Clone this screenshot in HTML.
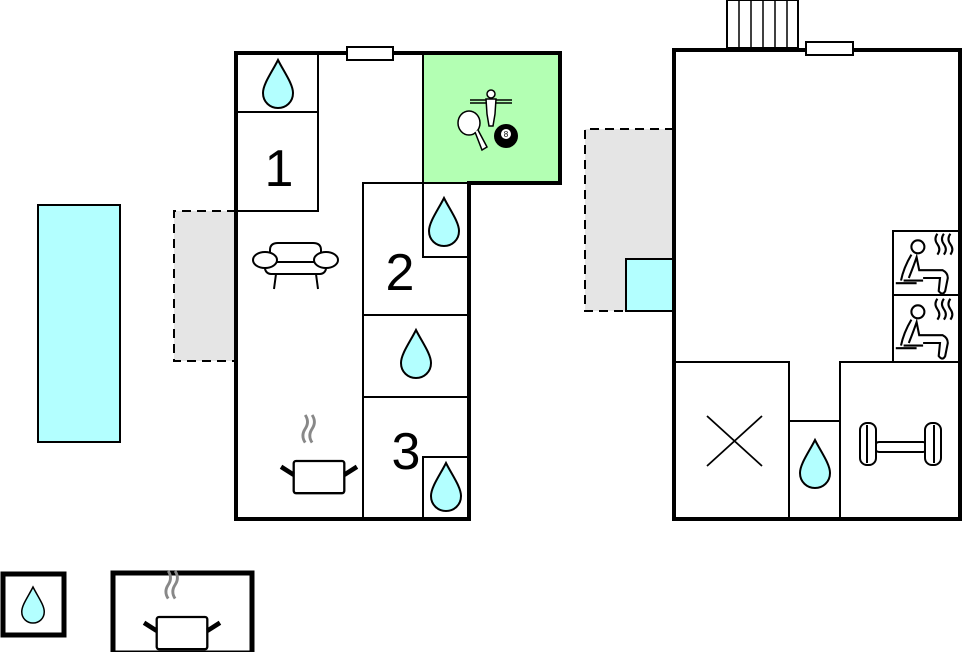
<!DOCTYPE html>
<html><head><meta charset="utf-8"><style>
html,body{margin:0;padding:0;background:#fff;width:965px;height:652px;overflow:hidden}
svg{display:block}
text{font-family:"Liberation Sans",sans-serif;fill:#000}
</style></head><body>
<svg width="965" height="652" viewBox="0 0 965 652" xmlns="http://www.w3.org/2000/svg">
<defs>
<symbol id="drop" viewBox="-16 -25 32 50" overflow="visible">
<path d="M0,-24 C6,-12 15,0 15,9 C15,18 8,24 0,24 C-8,24 -15,18 -15,9 C-15,0 -6,-12 0,-24 Z" fill="#b3ffff" stroke="#000" stroke-width="2"/>
</symbol>
<g id="pot">
<path d="M-12,-36 q-4,-6 0,-12 q4,-6 0,-12 M-6,-36 q-4,-6 0,-12 q4,-6 0,-12" fill="none" stroke="#888" stroke-width="2.5"/>
<rect x="-22" y="-20" width="44" height="28" rx="2" fill="#fff" stroke="#000" stroke-width="2"/>
<path d="M-22,-8 L-33,-15 M22,-8 L33,-15" stroke="#000" stroke-width="4"/>
</g>
<g id="sauna" fill="none" stroke="#000" stroke-width="1.6">
<circle cx="-7" cy="-14" r="5"/>
<path d="M-12,-8 Q-18,2 -20,12 M-18,12 L-3,12 M-14,10 Q-10,0 -8,-6 L-6,4 L12,4 Q16,6 16,10 L14,20 Q12,24 9,20 L10,10 L-3,10"/>
<path d="M-24,14 L-8,14"/>
<path d="M8,-24 q-3,4 0,8 q3,4 0,8 M13,-24 q-3,4 0,8 q3,4 0,8 M18,-24 q-3,4 0,8 q3,4 0,8"/>
</g>
</defs>

<rect x="38" y="205" width="82" height="237" fill="#b3ffff" stroke="#000" stroke-width="2"/>

<rect x="174" y="211" width="62" height="150" fill="#e5e5e5"/>
<path d="M236,211 L174,211 L174,361 L236,361" fill="none" stroke="#000" stroke-width="2" stroke-dasharray="9,6"/>

<rect x="423" y="55" width="137" height="128" fill="#b3ffb3"/>
<g fill="none" stroke="#000" stroke-width="2">
<path d="M236,112 L318,112 L318,55 M236,211 L318,211 L318,112"/>
<path d="M423,55 L423,183 M363,519 L363,183 L469,183 M423,183 L423,257 L469,257 M363,315 L469,315 M363,397 L469,397 M423,519 L423,457 L469,457"/>
</g>
<path d="M236,53 L560,53 L560,183 L469,183 L469,519 L236,519 Z" fill="none" stroke="#000" stroke-width="4"/>
<rect x="347" y="47" width="46" height="13" fill="#fff" stroke="#000" stroke-width="2"/>

<use href="#drop" x="262" y="57" width="32" height="54"/>
<use href="#drop" x="428" y="194" width="32" height="56"/>
<use href="#drop" x="400" y="326" width="32" height="56"/>
<use href="#drop" x="430" y="459" width="32" height="56"/>

<text x="279" y="186" font-size="52" text-anchor="middle">1</text>
<text x="400" y="290" font-size="52" text-anchor="middle">2</text>
<text x="406" y="469" font-size="52" text-anchor="middle">3</text>

<g fill="#fff" stroke="#000" stroke-width="2">
<path d="M270,262 L270,250 Q270,243 278,243 L313,243 Q321,243 321,250 L321,262"/>
<rect x="265" y="262" width="61" height="12" rx="6"/>
<ellipse cx="265" cy="260" rx="12" ry="8"/>
<ellipse cx="326" cy="260" rx="12" ry="8"/>
<path d="M276,274 L274,289 M316,274 L318,289" fill="none"/>
</g>
<use href="#pot" transform="translate(319,484) scale(1.15)"/>

<g stroke="#000" fill="#fff" stroke-width="1.5">
<path d="M470,100 L512,100 M470,103 L512,103"/>
<circle cx="491" cy="94" r="4"/>
<path d="M486,99 L496,99 L495,114 L493,126 L489,126 L487,114 Z"/>
<ellipse cx="469" cy="123" rx="11" ry="12"/>
<path d="M475,132 L482,150 L487,147 L478,130" />
</g>
<circle cx="506" cy="136" r="12" fill="#000"/>
<circle cx="506" cy="134" r="5" fill="#fff"/>
<text x="506" y="137" font-size="8" text-anchor="middle">8</text>

<rect x="585" y="129" width="89" height="182" fill="#e5e5e5"/>
<path d="M674,129 L585,129 L585,311 L626,311" fill="none" stroke="#000" stroke-width="2" stroke-dasharray="9,6"/>
<rect x="626" y="259" width="48" height="52" fill="#b3ffff" stroke="#000" stroke-width="2"/>

<rect x="727" y="0" width="71" height="48" fill="#fff" stroke="#000" stroke-width="2"/>
<path d="M739,0 V48 M751,0 V48 M763,0 V48 M775,0 V48 M787,0 V48" stroke="#000" stroke-width="1.5"/>

<g fill="none" stroke="#000" stroke-width="2">
<path d="M893,361 L893,231 L960,231 M893,295 L960,295"/>
<path d="M674,362 L789,362 L789,519 M789,421 L840,421 M840,519 L840,362 L960,362"/>
<path d="M707,416 L762,466 M762,416 L707,466" stroke-width="1.8"/>
</g>
<path d="M674,50 L960,50 L960,519 L674,519 Z" fill="none" stroke="#000" stroke-width="4"/>
<rect x="806" y="42" width="47" height="13" fill="#fff" stroke="#000" stroke-width="2"/>

<use href="#sauna" transform="translate(927,265) scale(1.3)"/>
<use href="#sauna" transform="translate(927,330) scale(1.3)"/>
<use href="#drop" x="799" y="436" width="32" height="56"/>

<g fill="#fff" stroke="#000" stroke-width="2">
<rect x="875" y="442" width="52" height="10" rx="4"/>
<rect x="860" y="423" width="16" height="42" rx="7"/>
<path d="M867,425 L867,463"/>
<rect x="925" y="423" width="16" height="42" rx="7"/>
<path d="M934,425 L934,463"/>
</g>

<rect x="3" y="574" width="61" height="61" fill="#fff" stroke="#000" stroke-width="5"/>
<use href="#drop" x="21" y="583" width="24" height="44"/>
<rect x="113" y="573" width="139" height="80" fill="#fff" stroke="#000" stroke-width="5"/>
<use href="#pot" transform="translate(182,640) scale(1.15)"/>
</svg>
</body></html>
